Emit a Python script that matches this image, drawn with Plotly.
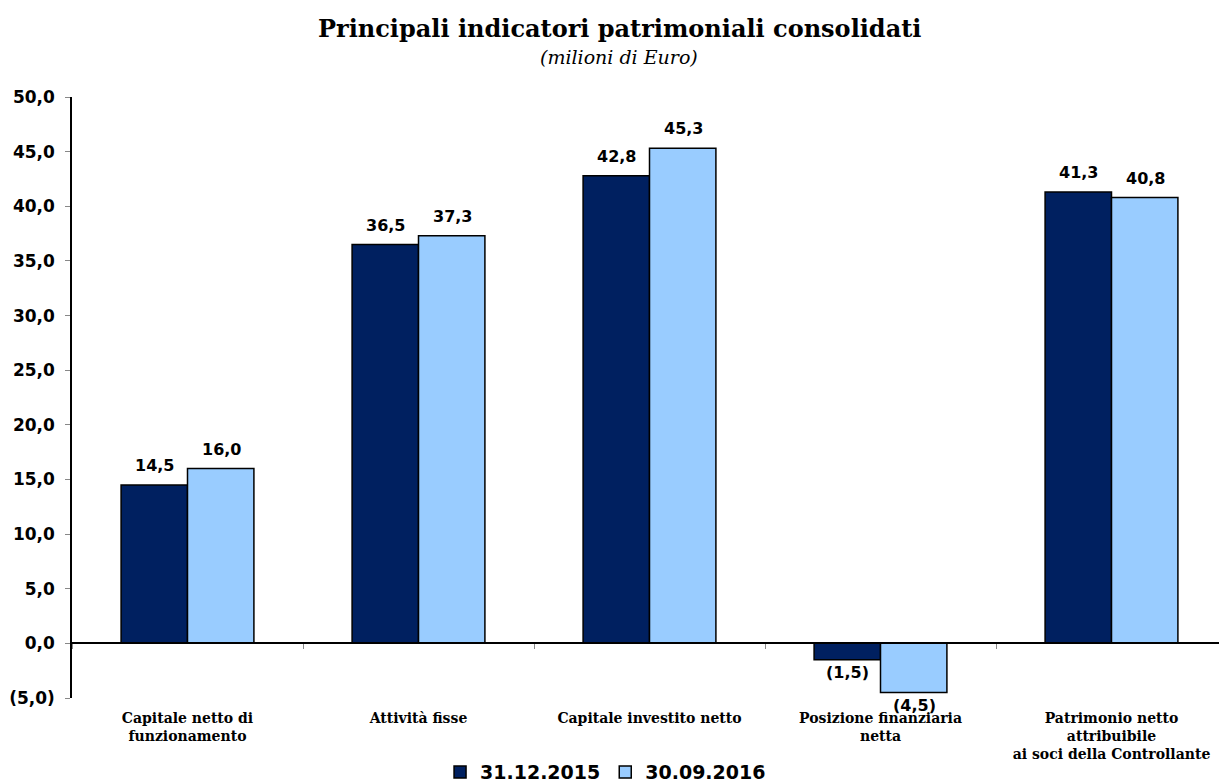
import plotly.graph_objects as go

categories = [
    "Capitale netto di<br>funzionamento",
    "Attività fisse",
    "Capitale investito netto",
    "Posizione finanziaria<br>netta",
    "Patrimonio netto<br>attribuibile<br>ai soci della Controllante",
]
series_names = ["31.12.2015", "30.09.2016"]
values_2015 = [14.5, 36.5, 42.8, -1.5, 41.3]
values_2016 = [16.0, 37.3, 45.3, -4.5, 40.8]
y_ticks = [-5, 0, 5, 10, 15, 20, 25, 30, 35, 40, 45, 50]
y_range = [-5, 50]
title_text = "Principali indicatori patrimoniali consolidati"
subtitle_text = "(milioni di Euro)"


def fmt(v):
    s = f"{abs(v):.1f}".replace(".", ",")
    return f"({s})" if v < 0 else s


SANS = "DejaVu Sans, Verdana, sans-serif"
SERIF = "DejaVu Serif, serif"
colors = ["#002060", "#99CCFF"]
W, H = 1227, 783
PLOT_L, PLOT_R, PLOT_T, PLOT_H = 64, 1219, 89, 601
BAR_HALF = 33.5  # half of a bar's pixel width, for label offsets

fig = go.Figure()
for name, vals, col in zip(series_names, [values_2015, values_2016], colors):
    fig.add_trace(go.Bar(
        x=categories, y=vals, name=name,
        marker=dict(color=col, line=dict(color="#000000", width=1.5)),
        cliponaxis=False,
    ))

# data labels, anchored on each bar's value through the axes
for k, vals in enumerate([values_2015, values_2016]):
    shift = -BAR_HALF if k == 0 else BAR_HALF
    for c, v in zip(categories, vals):
        fig.add_annotation(
            x=c, y=v, xref="x", yref="y", text=fmt(v), showarrow=False,
            xshift=shift, yanchor="bottom" if v >= 0 else "top",
            yshift=8 if v >= 0 else -1,
            font=dict(family=SANS, size=16, color="#000000", weight="bold"),
        )

# invisible trace to carry the category labels on the bottom axis
fig.add_trace(go.Bar(x=categories, y=[0] * len(categories), xaxis="x2",
                     showlegend=False, hoverinfo="skip",
                     marker=dict(color="rgba(0,0,0,0)")))

zero_pos = (0 - y_range[0]) / (y_range[1] - y_range[0])
title_x = (611 - PLOT_L) / (PLOT_R - PLOT_L)

fig.add_annotation(text=f"<b>{title_text}</b>", xref="paper", yref="paper",
                   x=title_x, y=1 + (PLOT_T - 20) / PLOT_H,
                   xanchor="center", yanchor="middle", showarrow=False,
                   font=dict(family=SERIF, size=24, color="#000000"))
fig.add_annotation(text=f"<i>{subtitle_text}</i>", xref="paper", yref="paper",
                   x=title_x, y=1 + (PLOT_T - 49) / PLOT_H,
                   xanchor="center", yanchor="middle", showarrow=False,
                   font=dict(family=SERIF, size=19, color="#000000"))

fig.update_layout(
    width=W, height=H,
    paper_bgcolor="white", plot_bgcolor="white",
    margin=dict(l=PLOT_L, r=W - PLOT_R, t=PLOT_T, b=H - PLOT_T - PLOT_H,
                autoexpand=False),
    barmode="group", bargap=0.425, bargroupgap=0,
    xaxis=dict(
        type="category", categoryarray=categories, range=[-0.5, 4.5],
        anchor="free", position=zero_pos, automargin=False,
        showline=True, linecolor="#000000", linewidth=1.5,
        showticklabels=False, ticks="outside", tickson="boundaries",
        ticklen=5, tickcolor="#888888", showgrid=False, zeroline=False,
    ),
    xaxis2=dict(
        type="category", categoryarray=categories, range=[-0.5, 4.5],
        overlaying="x", anchor="y", side="bottom", automargin=False,
        showline=False, ticks="", showgrid=False, ticklabelstandoff=10,
        tickfont=dict(family=SERIF, size=14, color="#000000", weight="bold"),
    ),
    yaxis=dict(
        range=y_range, tickmode="array", tickvals=y_ticks,
        ticktext=[fmt(v) for v in y_ticks], automargin=False,
        showline=True, linecolor="#000000", linewidth=1.5,
        ticks="outside", ticklen=5, tickcolor="#888888", ticklabelstandoff=7,
        showgrid=False, zeroline=False,
        tickfont=dict(family=SANS, size=17, color="#000000", weight="bold"),
    ),
    legend=dict(
        orientation="h", xref="container", x=0.487, xanchor="center",
        yref="container", y=0.024, yanchor="middle",
        font=dict(family=SANS, size=19, color="#000000", weight="bold"),
        itemwidth=30, tracegroupgap=0,
    ),
)

fig.write_html("out.html")
